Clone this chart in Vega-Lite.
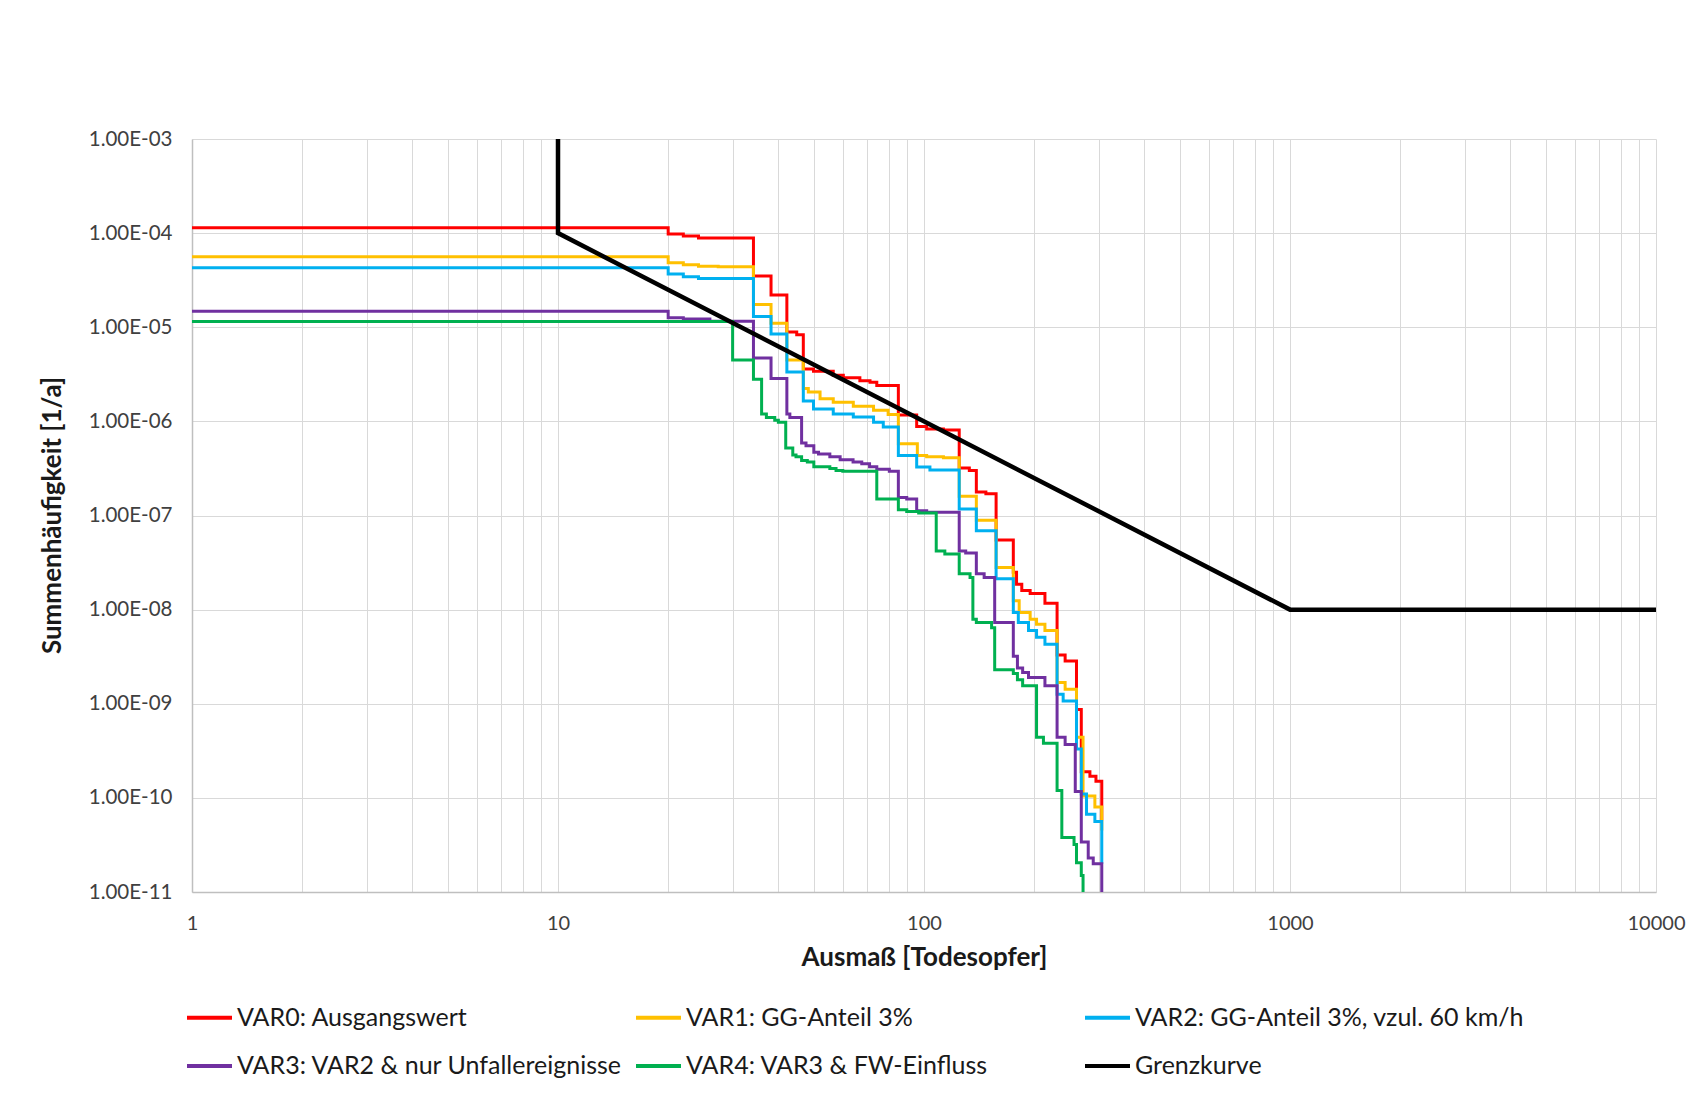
{
  "$schema": "https://vega.github.io/schema/vega-lite/v6.json",
  "width": 1464,
  "height": 753,
  "autosize": {"type": "none"},
  "padding": {"left": 192, "top": 139, "right": 32, "bottom": 201},
  "background": "white",
  "config": {"view": {"stroke": null}, "font": "Lato"},
  "data": {"values": [
    {"s":"VAR0: Ausgangswert","i":0,"n":1,"f":1.14e-4},{"s":"VAR0: Ausgangswert","i":1,"n":20,"f":9.8e-5},{"s":"VAR0: Ausgangswert","i":2,"n":22,"f":9.3e-5},{"s":"VAR0: Ausgangswert","i":3,"n":24.2,"f":8.9e-5},{"s":"VAR0: Ausgangswert","i":4,"n":34.2,"f":3.5e-5},{"s":"VAR0: Ausgangswert","i":5,"n":38.2,"f":2.2e-5},{"s":"VAR0: Ausgangswert","i":6,"n":42.2,"f":8.9e-6},{"s":"VAR0: Ausgangswert","i":7,"n":44.9,"f":8.3e-6},{"s":"VAR0: Ausgangswert","i":8,"n":46.8,"f":3.6e-6},{"s":"VAR0: Ausgangswert","i":9,"n":49.9,"f":3.4e-6},{"s":"VAR0: Ausgangswert","i":10,"n":56.5,"f":3.1e-6},{"s":"VAR0: Ausgangswert","i":11,"n":60.2,"f":2.9e-6},{"s":"VAR0: Ausgangswert","i":12,"n":66.8,"f":2.7e-6},{"s":"VAR0: Ausgangswert","i":13,"n":71.2,"f":2.6e-6},{"s":"VAR0: Ausgangswert","i":14,"n":74.3,"f":2.4e-6},{"s":"VAR0: Ausgangswert","i":15,"n":85.1,"f":1.17e-6},{"s":"VAR0: Ausgangswert","i":16,"n":95.5,"f":8.8e-7},{"s":"VAR0: Ausgangswert","i":17,"n":101.7,"f":8.3e-7},{"s":"VAR0: Ausgangswert","i":18,"n":113,"f":8.1e-7},{"s":"VAR0: Ausgangswert","i":19,"n":124.8,"f":3.2e-7},{"s":"VAR0: Ausgangswert","i":20,"n":133,"f":3.0e-7},{"s":"VAR0: Ausgangswert","i":21,"n":139,"f":1.78e-7},{"s":"VAR0: Ausgangswert","i":22,"n":147.6,"f":1.7e-7},{"s":"VAR0: Ausgangswert","i":23,"n":157.4,"f":5.5e-8},{"s":"VAR0: Ausgangswert","i":24,"n":175.4,"f":2.5e-8},{"s":"VAR0: Ausgangswert","i":25,"n":179,"f":1.86e-8},{"s":"VAR0: Ausgangswert","i":26,"n":185,"f":1.6e-8},{"s":"VAR0: Ausgangswert","i":27,"n":195,"f":1.48e-8},{"s":"VAR0: Ausgangswert","i":28,"n":214,"f":1.17e-8},{"s":"VAR0: Ausgangswert","i":29,"n":231,"f":3.3e-9},{"s":"VAR0: Ausgangswert","i":30,"n":243,"f":2.85e-9},{"s":"VAR0: Ausgangswert","i":31,"n":261,"f":8.7e-10},{"s":"VAR0: Ausgangswert","i":32,"n":269,"f":1.9e-10},{"s":"VAR0: Ausgangswert","i":33,"n":284,"f":1.7e-10},{"s":"VAR0: Ausgangswert","i":34,"n":295,"f":1.5e-10},{"s":"VAR0: Ausgangswert","i":35,"n":306,"f":5.8e-11},
    {"s":"VAR1: GG-Anteil 3%","i":0,"n":1,"f":5.6e-5},{"s":"VAR1: GG-Anteil 3%","i":1,"n":20,"f":4.85e-5},{"s":"VAR1: GG-Anteil 3%","i":2,"n":22,"f":4.6e-5},{"s":"VAR1: GG-Anteil 3%","i":3,"n":24.2,"f":4.45e-5},{"s":"VAR1: GG-Anteil 3%","i":4,"n":27.4,"f":4.4e-5},{"s":"VAR1: GG-Anteil 3%","i":5,"n":34.2,"f":1.74e-5},{"s":"VAR1: GG-Anteil 3%","i":6,"n":38.2,"f":1.1e-5},{"s":"VAR1: GG-Anteil 3%","i":7,"n":42.2,"f":4.5e-6},{"s":"VAR1: GG-Anteil 3%","i":8,"n":46.8,"f":2.24e-6},{"s":"VAR1: GG-Anteil 3%","i":9,"n":48.3,"f":2.05e-6},{"s":"VAR1: GG-Anteil 3%","i":10,"n":52,"f":1.74e-6},{"s":"VAR1: GG-Anteil 3%","i":11,"n":56.5,"f":1.6e-6},{"s":"VAR1: GG-Anteil 3%","i":12,"n":64.1,"f":1.45e-6},{"s":"VAR1: GG-Anteil 3%","i":13,"n":72.8,"f":1.31e-6},{"s":"VAR1: GG-Anteil 3%","i":14,"n":79.8,"f":1.18e-6},{"s":"VAR1: GG-Anteil 3%","i":15,"n":85.1,"f":5.8e-7},{"s":"VAR1: GG-Anteil 3%","i":16,"n":95.9,"f":4.35e-7},{"s":"VAR1: GG-Anteil 3%","i":17,"n":101.7,"f":4.2e-7},{"s":"VAR1: GG-Anteil 3%","i":18,"n":113,"f":4.1e-7},{"s":"VAR1: GG-Anteil 3%","i":19,"n":124.8,"f":1.6e-7},{"s":"VAR1: GG-Anteil 3%","i":20,"n":139,"f":8.9e-8},{"s":"VAR1: GG-Anteil 3%","i":21,"n":157.4,"f":2.8e-8},{"s":"VAR1: GG-Anteil 3%","i":22,"n":175.4,"f":1.24e-8},{"s":"VAR1: GG-Anteil 3%","i":23,"n":182,"f":9.3e-9},{"s":"VAR1: GG-Anteil 3%","i":24,"n":195,"f":7.9e-9},{"s":"VAR1: GG-Anteil 3%","i":25,"n":203,"f":7e-9},{"s":"VAR1: GG-Anteil 3%","i":26,"n":214,"f":6e-9},{"s":"VAR1: GG-Anteil 3%","i":27,"n":231,"f":1.68e-9},{"s":"VAR1: GG-Anteil 3%","i":28,"n":243,"f":1.43e-9},{"s":"VAR1: GG-Anteil 3%","i":29,"n":261,"f":4.4e-10},{"s":"VAR1: GG-Anteil 3%","i":30,"n":272,"f":1.05e-10},{"s":"VAR1: GG-Anteil 3%","i":31,"n":293,"f":8e-11},{"s":"VAR1: GG-Anteil 3%","i":32,"n":306,"f":4.5e-11},
    {"s":"VAR2: GG-Anteil 3%, vzul. 60 km/h","i":0,"n":1,"f":4.3e-5},{"s":"VAR2: GG-Anteil 3%, vzul. 60 km/h","i":1,"n":20,"f":3.67e-5},{"s":"VAR2: GG-Anteil 3%, vzul. 60 km/h","i":2,"n":22,"f":3.43e-5},{"s":"VAR2: GG-Anteil 3%, vzul. 60 km/h","i":3,"n":24.2,"f":3.3e-5},{"s":"VAR2: GG-Anteil 3%, vzul. 60 km/h","i":4,"n":34.2,"f":1.3e-5},{"s":"VAR2: GG-Anteil 3%, vzul. 60 km/h","i":5,"n":38.2,"f":8.5e-6},{"s":"VAR2: GG-Anteil 3%, vzul. 60 km/h","i":6,"n":42.2,"f":3.35e-6},{"s":"VAR2: GG-Anteil 3%, vzul. 60 km/h","i":7,"n":46.8,"f":1.65e-6},{"s":"VAR2: GG-Anteil 3%, vzul. 60 km/h","i":8,"n":49.9,"f":1.35e-6},{"s":"VAR2: GG-Anteil 3%, vzul. 60 km/h","i":9,"n":56.5,"f":1.2e-6},{"s":"VAR2: GG-Anteil 3%, vzul. 60 km/h","i":10,"n":64.1,"f":1.11e-6},{"s":"VAR2: GG-Anteil 3%, vzul. 60 km/h","i":11,"n":72.8,"f":9.8e-7},{"s":"VAR2: GG-Anteil 3%, vzul. 60 km/h","i":12,"n":77.4,"f":8.7e-7},{"s":"VAR2: GG-Anteil 3%, vzul. 60 km/h","i":13,"n":85.1,"f":4.35e-7},{"s":"VAR2: GG-Anteil 3%, vzul. 60 km/h","i":14,"n":95.5,"f":3.27e-7},{"s":"VAR2: GG-Anteil 3%, vzul. 60 km/h","i":15,"n":103.8,"f":3.05e-7},{"s":"VAR2: GG-Anteil 3%, vzul. 60 km/h","i":16,"n":124.8,"f":1.17e-7},{"s":"VAR2: GG-Anteil 3%, vzul. 60 km/h","i":17,"n":139,"f":6.9e-8},{"s":"VAR2: GG-Anteil 3%, vzul. 60 km/h","i":18,"n":157.4,"f":2.13e-8},{"s":"VAR2: GG-Anteil 3%, vzul. 60 km/h","i":19,"n":175.4,"f":9.3e-9},{"s":"VAR2: GG-Anteil 3%, vzul. 60 km/h","i":20,"n":181,"f":7.3e-9},{"s":"VAR2: GG-Anteil 3%, vzul. 60 km/h","i":21,"n":193,"f":6e-9},{"s":"VAR2: GG-Anteil 3%, vzul. 60 km/h","i":22,"n":203,"f":5.1e-9},{"s":"VAR2: GG-Anteil 3%, vzul. 60 km/h","i":23,"n":214,"f":4.3e-9},{"s":"VAR2: GG-Anteil 3%, vzul. 60 km/h","i":24,"n":231,"f":1.26e-9},{"s":"VAR2: GG-Anteil 3%, vzul. 60 km/h","i":25,"n":240,"f":1.07e-9},{"s":"VAR2: GG-Anteil 3%, vzul. 60 km/h","i":26,"n":261,"f":3.3e-10},{"s":"VAR2: GG-Anteil 3%, vzul. 60 km/h","i":27,"n":269,"f":1.1e-10},{"s":"VAR2: GG-Anteil 3%, vzul. 60 km/h","i":28,"n":278,"f":6.7e-11},{"s":"VAR2: GG-Anteil 3%, vzul. 60 km/h","i":29,"n":293,"f":5.6e-11},{"s":"VAR2: GG-Anteil 3%, vzul. 60 km/h","i":30,"n":306,"f":2e-11},
    {"s":"VAR3: VAR2 & nur Unfallereignisse","i":0,"n":1,"f":1.48e-5},{"s":"VAR3: VAR2 & nur Unfallereignisse","i":1,"n":20,"f":1.26e-5},{"s":"VAR3: VAR2 & nur Unfallereignisse","i":2,"n":22,"f":1.22e-5},{"s":"VAR3: VAR2 & nur Unfallereignisse","i":3,"n":26,"f":1.16e-5},{"s":"VAR3: VAR2 & nur Unfallereignisse","i":4,"n":34.2,"f":4.7e-6},{"s":"VAR3: VAR2 & nur Unfallereignisse","i":5,"n":38.2,"f":2.85e-6},{"s":"VAR3: VAR2 & nur Unfallereignisse","i":6,"n":42.2,"f":1.2e-6},{"s":"VAR3: VAR2 & nur Unfallereignisse","i":7,"n":43,"f":1.1e-6},{"s":"VAR3: VAR2 & nur Unfallereignisse","i":8,"n":46.3,"f":5.9e-7},{"s":"VAR3: VAR2 & nur Unfallereignisse","i":9,"n":47.6,"f":5.5e-7},{"s":"VAR3: VAR2 & nur Unfallereignisse","i":10,"n":50,"f":4.7e-7},{"s":"VAR3: VAR2 & nur Unfallereignisse","i":11,"n":51.5,"f":4.5e-7},{"s":"VAR3: VAR2 & nur Unfallereignisse","i":12,"n":55.3,"f":4.2e-7},{"s":"VAR3: VAR2 & nur Unfallereignisse","i":13,"n":59,"f":3.9e-7},{"s":"VAR3: VAR2 & nur Unfallereignisse","i":14,"n":64,"f":3.7e-7},{"s":"VAR3: VAR2 & nur Unfallereignisse","i":15,"n":67.6,"f":3.55e-7},{"s":"VAR3: VAR2 & nur Unfallereignisse","i":16,"n":71,"f":3.3e-7},{"s":"VAR3: VAR2 & nur Unfallereignisse","i":17,"n":74.3,"f":3.1e-7},{"s":"VAR3: VAR2 & nur Unfallereignisse","i":18,"n":80.4,"f":2.95e-7},{"s":"VAR3: VAR2 & nur Unfallereignisse","i":19,"n":85.1,"f":1.55e-7},{"s":"VAR3: VAR2 & nur Unfallereignisse","i":20,"n":89.7,"f":1.5e-7},{"s":"VAR3: VAR2 & nur Unfallereignisse","i":21,"n":95.5,"f":1.12e-7},{"s":"VAR3: VAR2 & nur Unfallereignisse","i":22,"n":101.7,"f":1.08e-7},{"s":"VAR3: VAR2 & nur Unfallereignisse","i":23,"n":124.8,"f":4.2e-8},{"s":"VAR3: VAR2 & nur Unfallereignisse","i":24,"n":130,"f":4e-8},{"s":"VAR3: VAR2 & nur Unfallereignisse","i":25,"n":139,"f":2.4e-8},{"s":"VAR3: VAR2 & nur Unfallereignisse","i":26,"n":146,"f":2.2e-8},{"s":"VAR3: VAR2 & nur Unfallereignisse","i":27,"n":156,"f":7.3e-9},{"s":"VAR3: VAR2 & nur Unfallereignisse","i":28,"n":175.4,"f":3.2e-9},{"s":"VAR3: VAR2 & nur Unfallereignisse","i":29,"n":180,"f":2.4e-9},{"s":"VAR3: VAR2 & nur Unfallereignisse","i":30,"n":186,"f":2.15e-9},{"s":"VAR3: VAR2 & nur Unfallereignisse","i":31,"n":193,"f":1.9e-9},{"s":"VAR3: VAR2 & nur Unfallereignisse","i":32,"n":214,"f":1.55e-9},{"s":"VAR3: VAR2 & nur Unfallereignisse","i":33,"n":231,"f":4.4e-10},{"s":"VAR3: VAR2 & nur Unfallereignisse","i":34,"n":243,"f":3.7e-10},{"s":"VAR3: VAR2 & nur Unfallereignisse","i":35,"n":259,"f":1.17e-10},{"s":"VAR3: VAR2 & nur Unfallereignisse","i":36,"n":269,"f":3.4e-11},{"s":"VAR3: VAR2 & nur Unfallereignisse","i":37,"n":281,"f":2.3e-11},{"s":"VAR3: VAR2 & nur Unfallereignisse","i":38,"n":290,"f":2e-11},{"s":"VAR3: VAR2 & nur Unfallereignisse","i":39,"n":306,"f":5e-12},
    {"s":"VAR4: VAR3 & FW-Einfluss","i":0,"n":1,"f":1.15e-5},{"s":"VAR4: VAR3 & FW-Einfluss","i":1,"n":30,"f":4.5e-6},{"s":"VAR4: VAR3 & FW-Einfluss","i":2,"n":34.2,"f":2.8e-6},{"s":"VAR4: VAR3 & FW-Einfluss","i":3,"n":36,"f":1.2e-6},{"s":"VAR4: VAR3 & FW-Einfluss","i":4,"n":37.1,"f":1.1e-6},{"s":"VAR4: VAR3 & FW-Einfluss","i":5,"n":39.1,"f":1.03e-6},{"s":"VAR4: VAR3 & FW-Einfluss","i":6,"n":40,"f":9.8e-7},{"s":"VAR4: VAR3 & FW-Einfluss","i":7,"n":41.9,"f":5.2e-7},{"s":"VAR4: VAR3 & FW-Einfluss","i":8,"n":43.8,"f":4.4e-7},{"s":"VAR4: VAR3 & FW-Einfluss","i":9,"n":44.7,"f":4.2e-7},{"s":"VAR4: VAR3 & FW-Einfluss","i":10,"n":46.3,"f":3.85e-7},{"s":"VAR4: VAR3 & FW-Einfluss","i":11,"n":48,"f":3.7e-7},{"s":"VAR4: VAR3 & FW-Einfluss","i":12,"n":50,"f":3.3e-7},{"s":"VAR4: VAR3 & FW-Einfluss","i":13,"n":55.3,"f":3.15e-7},{"s":"VAR4: VAR3 & FW-Einfluss","i":14,"n":57.5,"f":3.0e-7},{"s":"VAR4: VAR3 & FW-Einfluss","i":15,"n":60,"f":2.95e-7},{"s":"VAR4: VAR3 & FW-Einfluss","i":16,"n":74.3,"f":1.5e-7},{"s":"VAR4: VAR3 & FW-Einfluss","i":17,"n":85.1,"f":1.15e-7},{"s":"VAR4: VAR3 & FW-Einfluss","i":18,"n":89.7,"f":1.1e-7},{"s":"VAR4: VAR3 & FW-Einfluss","i":19,"n":96.7,"f":1.06e-7},{"s":"VAR4: VAR3 & FW-Einfluss","i":20,"n":108,"f":4.2e-8},{"s":"VAR4: VAR3 & FW-Einfluss","i":21,"n":114,"f":3.9e-8},{"s":"VAR4: VAR3 & FW-Einfluss","i":22,"n":124.8,"f":2.4e-8},{"s":"VAR4: VAR3 & FW-Einfluss","i":23,"n":133.6,"f":2.2e-8},{"s":"VAR4: VAR3 & FW-Einfluss","i":24,"n":136,"f":7.9e-9},{"s":"VAR4: VAR3 & FW-Einfluss","i":25,"n":139,"f":7.3e-9},{"s":"VAR4: VAR3 & FW-Einfluss","i":26,"n":153,"f":6.4e-9},{"s":"VAR4: VAR3 & FW-Einfluss","i":27,"n":156,"f":2.3e-9},{"s":"VAR4: VAR3 & FW-Einfluss","i":28,"n":175.4,"f":2.1e-9},{"s":"VAR4: VAR3 & FW-Einfluss","i":29,"n":180,"f":1.8e-9},{"s":"VAR4: VAR3 & FW-Einfluss","i":30,"n":186,"f":1.55e-9},{"s":"VAR4: VAR3 & FW-Einfluss","i":31,"n":203,"f":4.4e-10},{"s":"VAR4: VAR3 & FW-Einfluss","i":32,"n":212,"f":3.8e-10},{"s":"VAR4: VAR3 & FW-Einfluss","i":33,"n":231,"f":1.2e-10},{"s":"VAR4: VAR3 & FW-Einfluss","i":34,"n":238,"f":3.8e-11},{"s":"VAR4: VAR3 & FW-Einfluss","i":35,"n":257,"f":3.2e-11},{"s":"VAR4: VAR3 & FW-Einfluss","i":36,"n":261,"f":2.05e-11},{"s":"VAR4: VAR3 & FW-Einfluss","i":37,"n":269,"f":1.5e-11},{"s":"VAR4: VAR3 & FW-Einfluss","i":38,"n":272,"f":5e-12},
    {"s":"Grenzkurve","i":0,"n":10,"f":1e-3},{"s":"Grenzkurve","i":1,"n":10,"f":1e-4},{"s":"Grenzkurve","i":2,"n":1000,"f":1e-8},{"s":"Grenzkurve","i":3,"n":10000,"f":1e-8}
  ]},
  "encoding": {
    "x": {"field": "n", "type": "quantitative",
      "scale": {"type": "log", "domain": [1, 10000], "nice": false},
      "axis": {
        "title": "Ausmaß [Todesopfer]",
        "values": [1,2,3,4,5,6,7,8,9,10,20,30,40,50,60,70,80,90,100,200,300,400,500,600,700,800,900,1000,2000,3000,4000,5000,6000,7000,8000,9000,10000],
        "labelExpr": "indexof([1,10,100,1000,10000], datum.value) >= 0 ? format(datum.value, 'd') : ''",
        "labelOverlap": false, "labelFlush": false,
        "labelFontSize": 20, "labelColor": "#404040", "labelPadding": 21,
        "ticks": false, "domainColor": "#bfbfbf", "domainWidth": 1.5,
        "gridColor": "#d9d9d9", "gridWidth": 1,
        "titleFontSize": 26, "titleFontWeight": "bold", "titleColor": "#1a1a1a",
        "titlePadding": 11
      }},
    "y": {"field": "f", "type": "quantitative",
      "scale": {"type": "log", "domain": [1e-11, 1e-3], "nice": false},
      "axis": {
        "title": "Summenhäufigkeit [1/a]",
        "values": [1e-11,1e-10,1e-9,1e-8,1e-7,1e-6,1e-5,1e-4,1e-3],
        "labelExpr": "'1.00E-' + (round(-log(datum.value)/LN10) < 10 ? '0' : '') + round(-log(datum.value)/LN10)",
        "labelOverlap": false, "labelFontSize": 20.5, "labelColor": "#404040", "labelPadding": 20,
        "ticks": false, "domainColor": "#bfbfbf", "domainWidth": 1.5,
        "gridColor": "#d9d9d9", "gridWidth": 1,
        "titleFontSize": 26, "titleFontWeight": "bold", "titleColor": "#1a1a1a",
        "titleX": -140, "titleY": 376, "titleBaseline": "middle", "titleAngle": -90
      }},
    "color": {"field": "s", "type": "nominal",
      "scale": {
        "domain": ["VAR0: Ausgangswert","VAR1: GG-Anteil 3%","VAR2: GG-Anteil 3%, vzul. 60 km/h","VAR3: VAR2 & nur Unfallereignisse","VAR4: VAR3 & FW-Einfluss","Grenzkurve"],
        "range": ["#ff0000","#ffc000","#00b0f0","#7030a0","#00b050","#000000"]},
      "legend": {
        "title": null, "orient": "none", "legendX": -7, "legendY": 854,
        "direction": "horizontal", "columns": 3, "gridAlign": "all",
        "columnPadding": 1, "rowPadding": 10.5,
        "symbolType": "stroke", "symbolSize": 2025, "symbolStrokeWidth": 4,
        "labelFontSize": 25, "labelColor": "#1a1a1a", "labelOffset": 3, "labelLimit": 600
      }},
    "order": {"field": "i", "type": "quantitative"}
  },
  "layer": [
    {"transform": [{"filter": "datum.s != 'Grenzkurve'"}],
     "mark": {"type": "line", "interpolate": "step-after", "strokeWidth": 3, "clip": true}},
    {"transform": [{"filter": "datum.s == 'Grenzkurve'"}],
     "mark": {"type": "line", "strokeWidth": 4.5, "clip": true}}
  ]
}
